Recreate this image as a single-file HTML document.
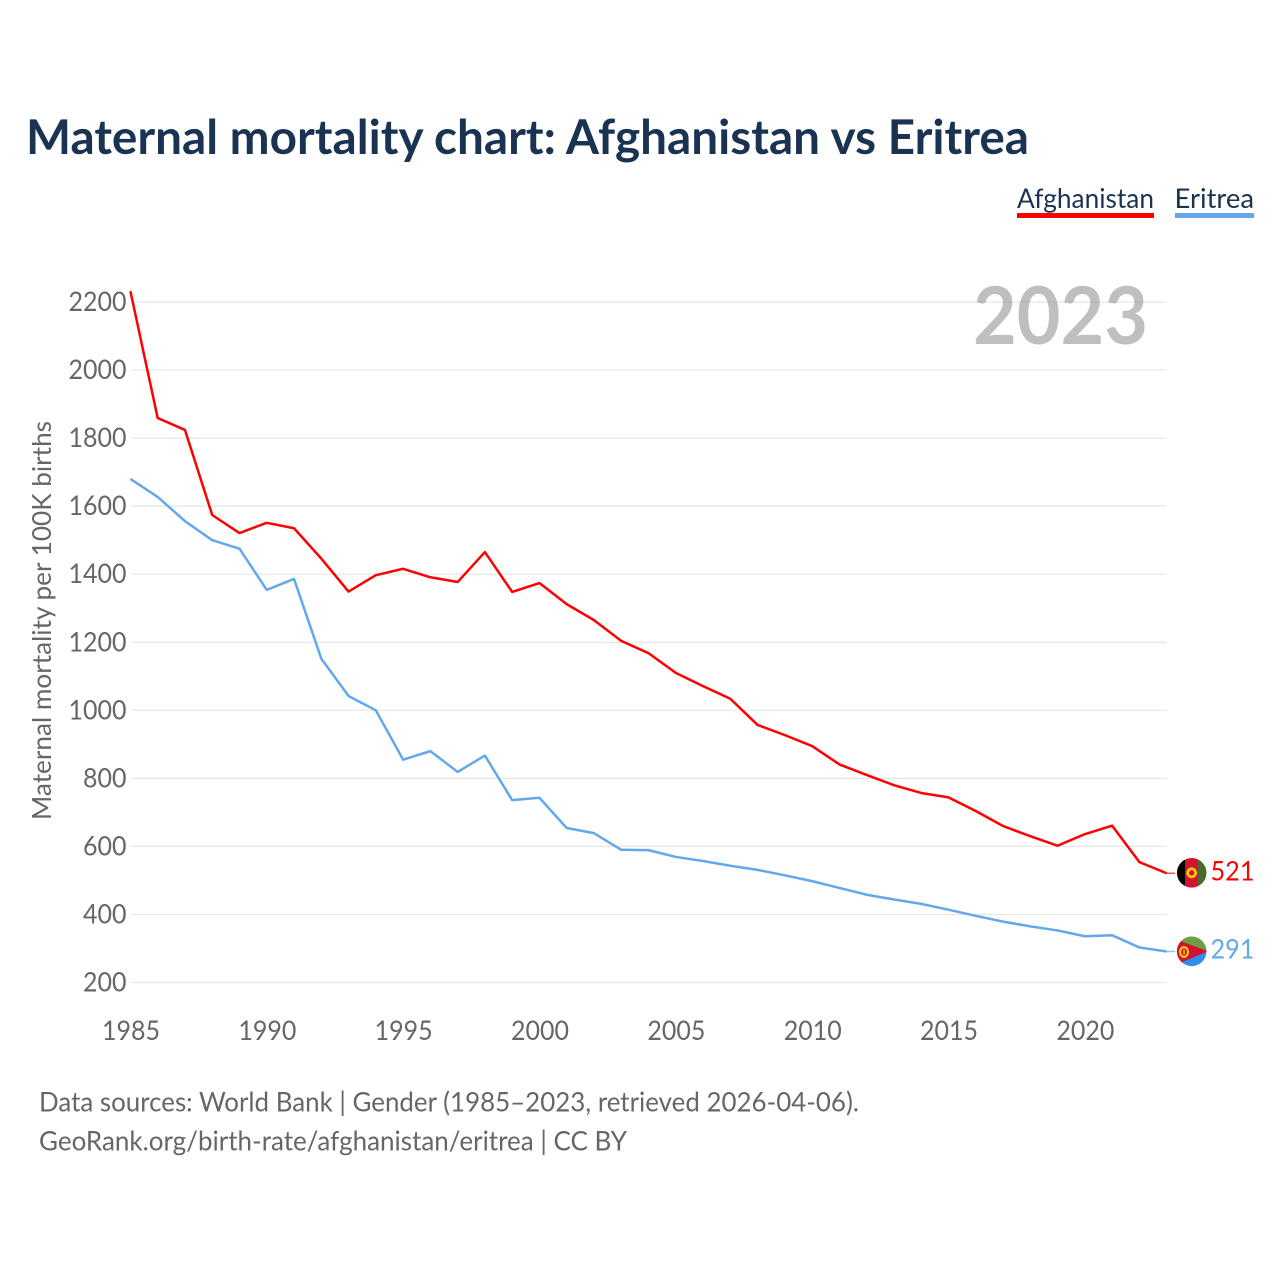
<!DOCTYPE html>
<html lang="en">
<head>
<meta charset="utf-8">
<title>Maternal mortality chart: Afghanistan vs Eritrea</title>
<style>
html,body{margin:0;padding:0;background:#fff;width:1280px;height:1280px;overflow:hidden}
svg{display:block}
text{font-family:"Lato","Carlito","Liberation Sans",sans-serif}
</style>
</head>
<body>
<svg id="chart" xmlns="http://www.w3.org/2000/svg" width="1280" height="1280" viewBox="0 0 1280 1280">
  <defs>
    <clipPath id="clip-af"><circle cx="1191.7" cy="872.8" r="14.8"/></clipPath>
    <clipPath id="clip-er"><circle cx="1191.7" cy="951.3" r="14.8"/></clipPath>
  </defs>
  <text x="26" y="154" font-size="48" font-weight="700" fill="#1a3352" textLength="1003" lengthAdjust="spacingAndGlyphs">Maternal mortality chart: Afghanistan vs Eritrea</text>

  <g>
    <g>
      <text x="1017" y="208" font-size="27" fill="#1a3352" textLength="137" lengthAdjust="spacingAndGlyphs">Afghanistan</text>
      <rect x="1017" y="213" width="137" height="5" fill="#ff0000"/>
    </g>
    <g>
      <text x="1174.5" y="208" font-size="27" fill="#1a3352" textLength="79.5" lengthAdjust="spacingAndGlyphs">Eritrea</text>
      <rect x="1175" y="213" width="79" height="5" fill="#63a8ec"/>
    </g>
  </g>

  <g id="grid"></g>
  <g id="yticks"></g>
  <g id="xticks"></g>

  <text transform="translate(51,820) rotate(-90)" font-size="26.5" fill="#666666" textLength="399" lengthAdjust="spacingAndGlyphs">Maternal mortality per 100K births</text>

  <text x="973" y="344" font-size="80" font-weight="700" fill="#808080" fill-opacity="0.5" textLength="175" lengthAdjust="spacingAndGlyphs">2023</text>

  <g id="series"></g>

  <g clip-path="url(#clip-af)">
    <rect x="1176" y="857" width="9.5" height="32" fill="#000000"/>
    <rect x="1185" y="857" width="13.3" height="32" fill="#d3122f"/>
    <rect x="1198" y="857" width="10" height="32" fill="#476b2f"/>
    <circle cx="1191.7" cy="872.8" r="4" fill="none" stroke="#f5c518" stroke-width="2.8"/>
  </g>
  <g clip-path="url(#clip-er)">
    <rect x="1176" y="936" width="32" height="16" fill="#6ea043"/>
    <rect x="1176" y="951" width="32" height="17" fill="#2f8df0"/>
    <polygon points="1176,939.5 1208,951.2 1176,964.6" fill="#d3122f"/>
    <ellipse cx="1184" cy="952" rx="4" ry="4.8" fill="none" stroke="#f5c518" stroke-width="2.2"/>
    <rect x="1183.2" y="949.5" width="1.6" height="5" fill="#f5c518"/>
  </g>

  <g>
    <text x="39" y="1111.5" font-size="27" fill="#666666" textLength="820" lengthAdjust="spacingAndGlyphs">Data sources: World Bank | Gender (1985–2023, retrieved 2026-04-06).</text>
    <text x="39" y="1150.5" font-size="27" fill="#666666" textLength="588" lengthAdjust="spacingAndGlyphs">GeoRank.org/birth-rate/afghanistan/eritrea | CC BY</text>
  </g>
</svg>
<script>
const years = [1985,1986,1987,1988,1989,1990,1991,1992,1993,1994,1995,1996,1997,1998,1999,2000,2001,2002,2003,2004,2005,2006,2007,2008,2009,2010,2011,2012,2013,2014,2015,2016,2017,2018,2019,2020,2021,2022,2023];
const afghanistan = [2232,1859,1824,1574,1521,1551,1535,1446,1349,1397,1416,1391,1377,1465,1348,1374,1312,1265,1204,1168,1110,1071,1034,957,927,895,841,810,780,757,744,704,660,630,602,636,661,554,521];
const eritrea = [1680,1627,1556,1500,1475,1354,1386,1152,1042,1000,855,880,819,867,736,743,654,639,590,589,569,557,543,531,515,498,478,458,444,431,414,396,379,365,353,336,339,303,291];
const yTickValues = [200,400,600,800,1000,1200,1400,1600,1800,2000,2200];
const xTickValues = [1985,1990,1995,2000,2005,2010,2015,2020];

const NS = 'http://www.w3.org/2000/svg';
function xScale(year){ return 130.4 + (year - 1985) * (1166.6 - 130.4) / 38; }
function yScale(value){ return 982.5 - (value - 200) * (982.5 - 302) / 2000; }
function make(tag, attrs, parent){
  const node = document.createElementNS(NS, tag);
  for (const k in attrs) node.setAttribute(k, attrs[k]);
  parent.appendChild(node);
  return node;
}

const grid = document.getElementById('grid');
const yticks = document.getElementById('yticks');
const xticks = document.getElementById('xticks');
const seriesGroup = document.getElementById('series');

yTickValues.forEach(function(v){
  const line = make('line', {x1:131, x2:1166.5, y1:yScale(v), y2:yScale(v), stroke:'#e6e6e6', 'stroke-width':1.2}, grid);
  
  
  const label = make('text', {x:126.5, y:yScale(v)+9, 'font-size':27, fill:'#666666', 'text-anchor':'end', textLength:String(v).length*14.5, lengthAdjust:'spacingAndGlyphs'}, yticks);
  
  
  label.textContent = v;
});

xTickValues.forEach(function(y){
  const label = make('text', {x:xScale(y)+0.6, y:1040, 'font-size':27, fill:'#666666', 'text-anchor':'middle', textLength:58, lengthAdjust:'spacingAndGlyphs'}, xticks);
  
  
  label.textContent = y;
});

function drawSeries(values, color, name){
  const pts = values.map(function(v,i){ return xScale(years[i]).toFixed(2)+','+yScale(v).toFixed(2); }).join(' ');
  const line = make('polyline', {points:pts, fill:'none', stroke:color, 'stroke-width':2.5, 'stroke-linejoin':'round'}, seriesGroup);
  
  
  const last = values[values.length-1];
  const lastY = yScale(last);
  const conn = make('line', {x1:1166.6, x2:1175, y1:lastY, y2:lastY, stroke:color, 'stroke-width':1.5, 'stroke-opacity':0.7}, seriesGroup);
  
  
  const label = make('text', {x:1210.5, y:lastY+7, 'font-size':27, fill:color, textLength:44, lengthAdjust:'spacingAndGlyphs'}, seriesGroup);
  
  
  label.textContent = last;
}
drawSeries(afghanistan, '#ff0000', 'line-afghanistan');
drawSeries(eritrea, '#63a8ec', 'line-eritrea');
</script>
</body>
</html>
